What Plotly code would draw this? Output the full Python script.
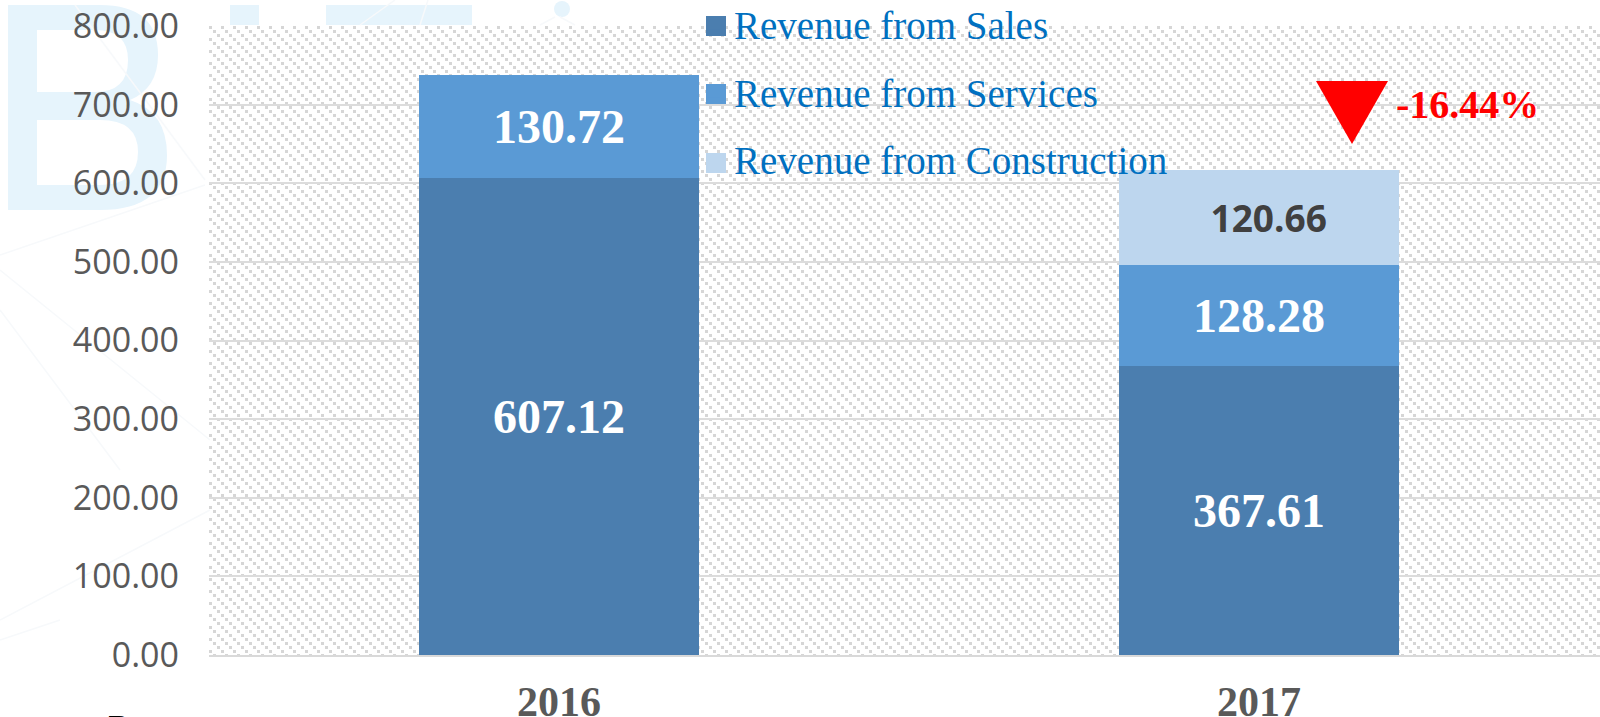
import base64
import plotly.graph_objects as go

years = ["2016", "2017"]
sales = [607.12, 367.61]
services = [130.72, 128.28]
construction = [None, 120.66]
series_names = ["Revenue from Sales", "Revenue from Services", "Revenue from Construction"]
series_colors = ["#4B7EAF", "#5A9AD5", "#BDD6EE"]
y_ticks = [0, 100, 200, 300, 400, 500, 600, 700, 800]
change_label = "-16.44%"

SERIF = "Liberation Serif"
W, H = 1600, 717
L, T, B = 209, 26, 62
PW, PH = W - L, H - T - B


def px(x):
    return (x - L) / PW


def py(y):
    return 1 - (y - T) / PH


hatch = f"""<svg xmlns='http://www.w3.org/2000/svg' width='{PW}' height='{PH}' shape-rendering='crispEdges'>
<defs><pattern id='p' width='12' height='12' patternUnits='userSpaceOnUse'>
<rect width='12' height='12' fill='#fff'/>
<g fill='#d6d6d6'>
<rect x='0' y='0' width='3' height='3'/><rect x='4' y='4' width='3' height='3'/><rect x='8' y='8' width='3' height='3'/>
</g></pattern></defs><rect width='{PW}' height='{PH}' fill='url(#p)'/></svg>"""
hatch_uri = "data:image/svg+xml;base64," + base64.b64encode(hatch.encode()).decode()

fig = go.Figure()
for name, vals, col in zip(series_names, [sales, services, construction], series_colors):
    is_light = name.endswith("Construction")
    pad = "\u00a0\u00a0" if is_light else ""
    fig.add_bar(
        name=name, legendgroup=name, x=years, y=vals, width=0.4,
        marker=dict(color=col, line=dict(width=0)),
        text=[None if v is None else f"{pad}{v:.2f}" for v in vals],
        textposition="inside", insidetextanchor="middle", textangle=0,
        insidetextfont=dict(
            family="Open Sans" if is_light else SERIF,
            size=37 if is_light else 48,
            color="#404040" if is_light else "#ffffff",
            weight="bold",
        ),
        hoverinfo="name+y",
    )

shapes = []
# watermark behind the plot
wm = "#E6F4FC"
shapes.append(dict(
    type="path", xref="paper", yref="paper", layer="below", fillcolor=wm, line_width=0,
    path=(f"M {px(8)} {py(5)} L {px(100)} {py(5)} Q {px(158)} {py(5)} {px(158)} {py(55)} "
          f"Q {px(158)} {py(88)} {px(130)} {py(100)} Q {px(167)} {py(112)} {px(167)} {py(155)} "
          f"Q {px(167)} {py(210)} {px(100)} {py(210)} L {px(8)} {py(210)} Z "
          f"M {px(37)} {py(30)} L {px(37)} {py(92)} L {px(95)} {py(92)} Q {px(128)} {py(92)} {px(128)} {py(60)} "
          f"Q {px(128)} {py(30)} {px(95)} {py(30)} Z "
          f"M {px(37)} {py(120)} L {px(37)} {py(185)} L {px(100)} {py(185)} Q {px(138)} {py(185)} {px(138)} {py(152)} "
          f"Q {px(138)} {py(120)} {px(100)} {py(120)} Z"),
))
for x0, x1 in [(230, 259), (326, 472)]:
    shapes.append(dict(type="rect", xref="paper", yref="paper", layer="below", fillcolor=wm, line_width=0,
                       x0=px(x0), x1=px(x1), y0=py(25), y1=py(5)))
shapes.append(dict(type="circle", xref="paper", yref="paper", layer="below", fillcolor=wm, line_width=0,
                   x0=px(554), x1=px(570), y0=py(17), y1=py(1)))
for x0, y0, x1, y1 in [(0, 255, 205, 185), (75, 5, 205, 180), (0, 270, 210, 440), (0, 620, 210, 510),
                       (0, 310, 120, 470), (0, 640, 60, 620), (360, 25, 395, 0), (420, 25, 428, 0),
                       (555, 17, 540, 25), (560, 17, 575, 25)]:
    shapes.append(dict(type="line", xref="paper", yref="paper", layer="below", line=dict(color="#F7F9FB", width=1.5),
                       x0=px(x0), x1=px(x1), y0=py(y0), y1=py(y1)))
# legend swatches
for yc, col in zip([26, 94, 163], series_colors):
    shapes.append(dict(type="rect", xref="paper", yref="paper", layer="above", fillcolor=col, line_width=0,
                       x0=px(706), x1=px(726), y0=py(yc + 10), y1=py(yc - 10)))
# change marker
shapes.append(dict(
    type="path", xref="paper", yref="paper", layer="above", fillcolor="#FF0000", line_width=0,
    path=f"M {px(1316)} {py(81)} L {px(1388)} {py(81)} L {px(1352)} {py(144)} Z",
))

fig.update_layout(
    width=W, height=H, autosize=False,
    margin=dict(l=L, r=0, t=T, b=B, pad=0, autoexpand=False),
    paper_bgcolor="#ffffff", plot_bgcolor="rgba(0,0,0,0)",
    barmode="stack", bargap=0.6, shapes=shapes,
    font=dict(family="Open Sans", color="#595959"),
    images=[dict(source=hatch_uri, xref="paper", yref="paper", x=0, y=1, sizex=1, sizey=1,
                 xanchor="left", yanchor="top", sizing="stretch", layer="below")],
    legend=dict(
        x=px(694), y=py(-8), xanchor="left", yanchor="top", bgcolor="rgba(0,0,0,0)",
        traceorder="grouped", tracegroupgap=14,
        font=dict(family=SERIF, size=39, color="#0070C0"),
        itemclick=False, itemdoubleclick=False,
    ),
    annotations=[
        dict(text=change_label, xref="paper", yref="paper", x=px(1394), y=py(105), xanchor="left", yanchor="middle",
             showarrow=False, font=dict(family=SERIF, size=40, color="#FF0000", weight="bold")),
        dict(text="R", xref="paper", yref="paper", x=px(119), y=py(706), xanchor="center", yanchor="top",
             showarrow=False, font=dict(family=SERIF, size=34, color="#000000")),
    ],
    xaxis=dict(
        type="category", range=[-0.5, 1.487], showgrid=False, automargin=False,
        showline=True, linecolor="#D9D9D9", linewidth=2, ticks="", ticklabelstandoff=9,
        tickfont=dict(family=SERIF, size=42, color="#595959", weight="bold"),
    ),
    yaxis=dict(
        range=[0, 800], tickvals=y_ticks, ticktext=[f"{v:.2f}" for v in y_ticks],
        showgrid=True, gridcolor="#DCDCDC", gridwidth=2, zeroline=False, showline=False, ticks="",
        ticklabelstandoff=29,
        tickfont=dict(family="Open Sans", size=34, color="#595959"), automargin=False,
    ),
)
fig.write_html(
    "out.html",
    config={"displayModeBar": False},
    post_script="document.body.style.margin='0';document.documentElement.style.overflow='hidden';",
)
